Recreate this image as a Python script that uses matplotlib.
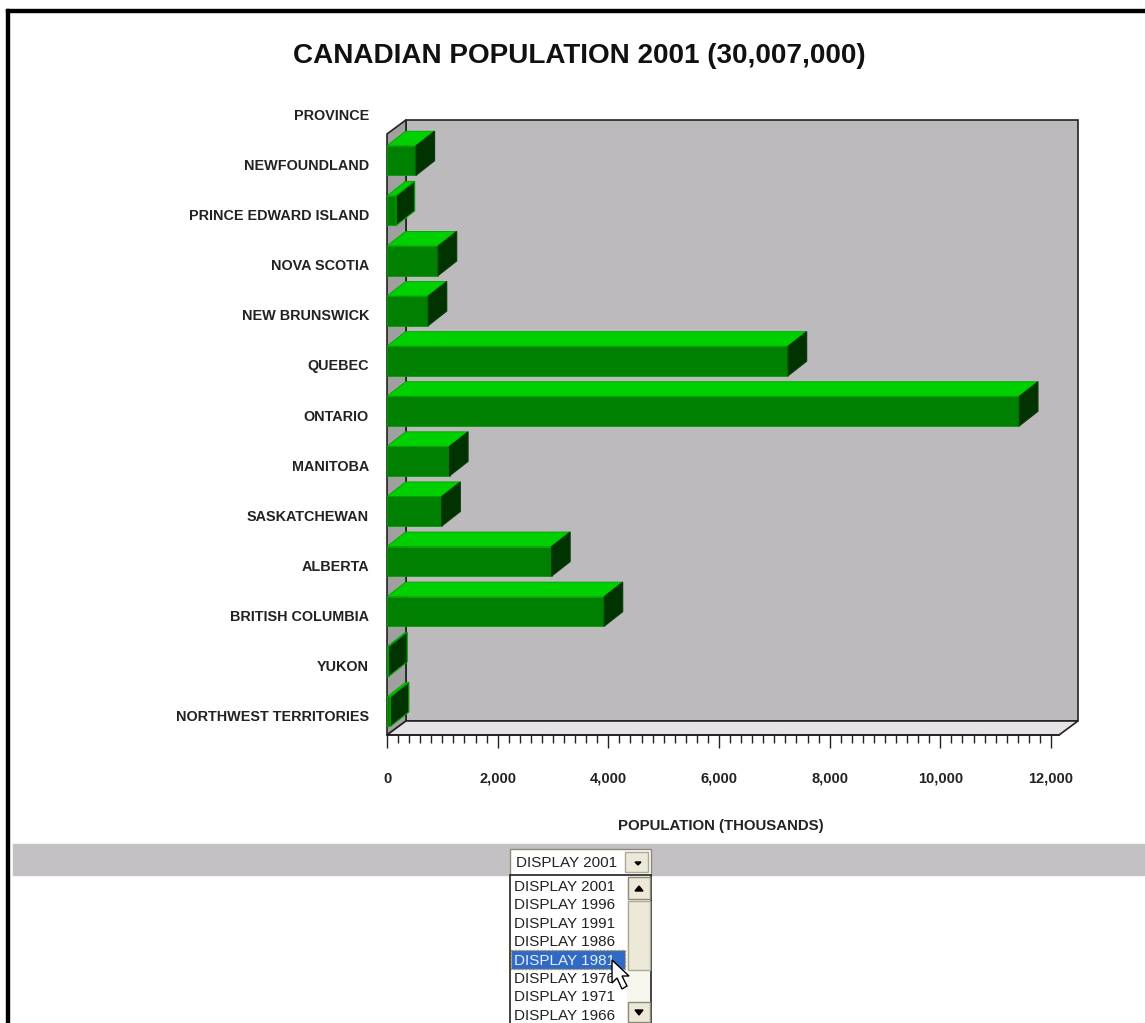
import numpy as np
import matplotlib
matplotlib.use('Agg')
import matplotlib.pyplot as plt
from matplotlib.patches import Polygon, Rectangle

plt.rcParams['font.family'] = ['Liberation Sans', 'DejaVu Sans']

# data
provinces = ['NEWFOUNDLAND', 'PRINCE EDWARD ISLAND', 'NOVA SCOTIA', 'NEW BRUNSWICK', 'QUEBEC', 'ONTARIO',
             'MANITOBA', 'SASKATCHEWAN', 'ALBERTA', 'BRITISH COLUMBIA', 'YUKON', 'NORTHWEST TERRITORIES']
population = [525, 165, 925, 745, 7250, 11430, 1130, 990, 2975, 3925, 30, 60]
major_ticks = [0, 2000, 4000, 6000, 8000, 10000, 12000]
tick_labels = ['0', '2,000', '4,000', '6,000', '8,000', '10,000', '12,000']
display_years = ['2001', '1996', '1991', '1986', '1981', '1976', '1971', '1966']

W, H = 1145, 1023
fig = plt.figure(figsize=(W / 100, H / 100), dpi=100, facecolor='white')

# page furniture, in pixel coordinates
page = fig.add_axes([0, 0, 1, 1], zorder=0)
page.set_xlim(0, W)
page.set_ylim(H, 0)
page.axis('off')

page.add_patch(Rectangle((6, 9), W, 3, color='black'))
page.add_patch(Rectangle((6, 9), 3, H, color='black'))
page.text(579, 56, 'CANADIAN POPULATION 2001 (30,007,000)', ha='center', va='center',
          fontsize=20.1, fontweight='bold', color='#111111')
page.text(721, 826, 'POPULATION (THOUSANDS)', ha='center', va='center', fontsize=10.8,
          fontweight='bold', color='#222222')

# grey band and combo box
page.add_patch(Rectangle((13, 844), W, 31, color='#c4c1c4'))
page.add_patch(Rectangle((510, 849), 141, 26, fc='white', ec='#8d8a7c', lw=1))
page.add_patch(Rectangle((625, 852), 23, 20, fc='#ece9d8', ec='#aca899', lw=1))
page.add_patch(Polygon([(635, 862), (641, 862), (638, 865)], color='black'))
page.text(516, 863, 'DISPLAY ' + display_years[0], va='center', fontsize=11, color='#222222')

# open list
page.add_patch(Rectangle((510, 875), 141, 150, fc='white', ec='#222222', lw=1.2))
page.add_patch(Rectangle((627, 876), 23, 147, fc='#f6f5ee', ec='none'))
page.add_patch(Rectangle((628, 877), 22, 22, fc='#ece9d8', ec='#8d8a7c', lw=1))
page.add_patch(Rectangle((628, 901), 22, 69, fc='#ece9d8', ec='#aca899', lw=1))
page.add_patch(Rectangle((628, 1002), 22, 20, fc='#ece9d8', ec='#8d8a7c', lw=1))
page.add_patch(Polygon([(635, 891), (643, 891), (639, 886)], color='black'))
page.add_patch(Polygon([(635, 1010), (643, 1010), (639, 1015)], color='black'))
row_y = 887
for i, year in enumerate(display_years):
    y = row_y + i * 18.4
    if year == '1981':
        page.add_patch(Rectangle((511, y - 10.5), 114, 19, fc='#316ac5', ec='#c08a20', lw=1, ls=':'))
    page.text(514, y, 'DISPLAY ' + year, va='center', fontsize=11,
              color='#e8eefa' if year == '1981' else '#222222', zorder=3)

# mouse pointer
tip = np.array([612, 960])
pointer = np.array([(0, 0), (0, 23), (5, 18), (10, 29), (15, 26), (10, 16), (17, 16)])
page.add_patch(Polygon(tip + pointer, fc='white', ec='black', lw=1, zorder=5))

# chart axes: y index 0 sits on the first province, -1 is the PROVINCE header
ax = fig.add_axes([387 / W, (H - 735) / H, 672 / W, 635 / H], zorder=1)
ax.patch.set_alpha(0)
ax.set_xlim(0, 12145)
ax.set_ylim(11.466, -1.208)

depth_x, depth_y = 343, 0.28
wall_top = -0.53
x_end = ax.get_xlim()[1]
y_end = ax.get_ylim()[0]
edge = '#222222'


def wall(points, color):
    ax.add_patch(Polygon(points, closed=True, fc=color, ec=edge, lw=1.2, clip_on=False, zorder=1))


wall([(depth_x, wall_top - depth_y), (x_end + depth_x, wall_top - depth_y),
      (x_end + depth_x, y_end - depth_y), (depth_x, y_end - depth_y)], '#bdbabd')
wall([(0, wall_top), (depth_x, wall_top - depth_y), (depth_x, y_end - depth_y), (0, y_end)], '#a0a0a0')
wall([(0, y_end), (depth_x, y_end - depth_y), (x_end + depth_x, y_end - depth_y), (x_end, y_end)], '#e6e2e6')

# bars: front face from barh, top and side faces follow it
bar_dx, bar_dy = 335, 0.29
half = 0.295
ys = np.arange(len(provinces))
ax.barh(ys, population, height=2 * half, color='#008000', edgecolor='#00a000', linewidth=0.6, zorder=3)
for y, v in zip(ys, population):
    ax.add_patch(Polygon([(0, y - half), (bar_dx, y - half - bar_dy), (v + bar_dx, y - half - bar_dy), (v, y - half)],
                         fc='#00d000', ec='#00a000', lw=0.6, clip_on=False, zorder=3))
    ax.add_patch(Polygon([(v, y - half), (v + bar_dx, y - half - bar_dy), (v + bar_dx, y + half - bar_dy), (v, y + half)],
                         fc='#003300', ec='#00a000' if v < 200 else '#0a3a0a', lw=0.8, clip_on=False, zorder=4))

for name in ['top', 'left', 'right']:
    ax.spines[name].set_visible(False)
ax.spines['bottom'].set_color(edge)
ax.spines['bottom'].set_linewidth(1.2)
ax.spines['bottom'].set_zorder(5)

ax.set_xticks(major_ticks)
ax.set_xticklabels(tick_labels, fontsize=10.5, fontweight='bold', color='#222222')
ax.set_xticks(np.arange(0, 12001, 200), minor=True)
ax.tick_params(axis='x', which='major', length=9.5, width=1, color=edge, pad=17)
ax.tick_params(axis='x', which='minor', length=5.5, width=1, color=edge)

ax.set_yticks(np.arange(-1, len(provinces)) + 0.08)
ax.set_yticklabels(['PROVINCE'] + provinces, fontsize=10.4, fontweight='bold', color='#222222')
ax.tick_params(axis='y', length=0, pad=13)

fig.savefig('out.png', dpi=100)
